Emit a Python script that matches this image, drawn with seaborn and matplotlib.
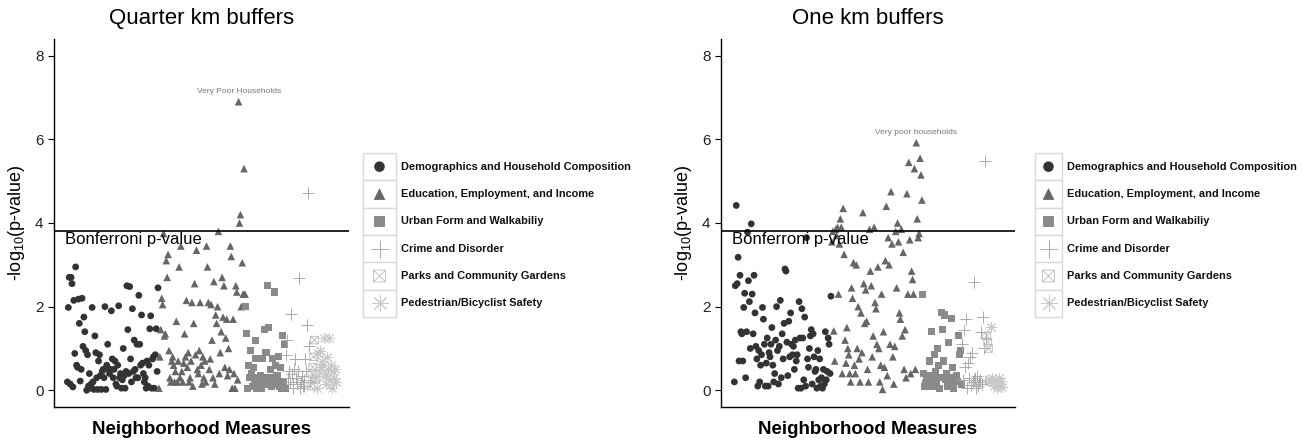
import matplotlib
matplotlib.use('Agg')
import matplotlib.pyplot as plt
from matplotlib.path import Path
from matplotlib.patches import Rectangle
import seaborn as sns
import pandas as pd

# category names and legend labels
domains = ['Demographics and Household Composition',
           'Education, Employment, and Income',
           'Urban Form and Walkabiliy',
           'Crime and Disorder',
           'Parks and Community Gardens',
           'Pedestrian/Bicyclist Safety']

panel_titles = ['Quarter km buffers', 'One km buffers']
bonferroni = 3.82
top_labels = ['Very Poor Households', 'Very poor households']

# -log10(p) per measure, in plotting order, quarter km buffers
q_demo = [0.2, 1.98, 2.7, 0.15, 2.7, 2.55, 0.08, 2.15, 0.88, 2.95, 0.6, 0.55,
          2.18, 1.6, 0.22, 0.5, 2.2, 1.05, 1.75, 1.4, 0.95, 0.0, 0.85, 0.1,
          0.4, 0.05, 0.15, 1.98, 0.2, 0.02, 1.3, 0.9, 0.3, 0.02, 0.7, 0.85,
          0.35, 0.02, 0.45, 0.5, 0.3, 2.0, 0.02, 0.6, 1.1, 0.5, 0.4, 0.5,
          1.9, 0.75, 0.3, 0.5, 0.7, 0.15, 0.1, 0.6, 2.02, 0.3, 0.4, 0.05,
          0.25, 1.0, 0.35, 0.05, 0.45, 2.5, 1.45, 0.4, 2.48, 0.75, 0.2, 1.95,
          0.45, 1.2, 0.5, 0.3, 1.1, 0.3, 2.27, 1.1, 0.6, 1.8, 0.65, 0.4,
          0.2, 0.3, 0.05, 0.7, 0.1, 0.6, 1.47, 1.78, 0.05, 0.75, 0.8, 0.05,
          0.85, 1.47, 0.45, 2.45]
q_educ = [0.05, 0.8, 1.45, 2.2, 2.05, 3.75, 1.3, 1.35, 3.1, 2.7, 3.25, 0.95,
          0.3, 0.2, 0.7, 0.8, 0.6, 0.2, 0.45, 1.65, 0.2, 0.7, 2.95, 0.3,
          3.45, 0.45, 0.2, 0.65, 1.35, 0.8, 2.15, 0.55, 0.9, 0.2, 0.3, 0.7,
          2.1, 0.1, 1.6, 2.55, 0.85, 3.35, 0.5, 0.4, 0.95, 2.1, 0.6, 0.15,
          0.8, 0.3, 0.7, 0.2, 3.45, 2.95, 2.1, 0.5, 0.75, 2.05, 1.2, 0.3,
          2.6, 0.15, 1.8, 1.6, 2.0, 3.8, 0.4, 0.9, 1.4, 2.7, 1.75, 2.5,
          0.55, 1.25, 1.7, 0.35, 1.0, 0.5, 3.45, 3.2, 0.05, 1.7, 0.4, 0.05,
          2.5, 2.35, 0.25, 6.9, 4.0, 4.2, 2.0, 3.05, 2.3, 5.3, 2.3]
q_urban = [2.0, 1.35, 0.05, 0.6, 0.3, 0.95, 0.4, 0.1, 0.55, 0.25, 1.2, 0.75,
           0.05, 0.1, 0.3, 0.2, 0.35, 0.05, 0.75, 0.3, 1.45, 0.15, 0.9, 0.2,
           2.5, 1.5, 0.3, 0.5, 0.1, 0.75, 0.25, 2.35, 0.6, 0.3, 0.35, 0.15,
           0.8, 0.1, 0.55, 0.05, 1.3, 0.2, 1.1, 0.05]
q_crime = [0.85, 1.2, 0.3, 0.45, 0.2, 1.82, 0.4, 0.05, 0.15, 0.5, 0.75, 0.3,
           0.15, 0.45, 2.68, 0.05, 0.2, 0.35, 0.1, 0.25, 0.1, 0.75, 0.45,
           1.55, 4.72, 1.05, 0.2]
q_parks = [0.1, 0.4, 0.55, 0.8, 1.2, 0.25, 0.3]
q_ped = [0.05, 0.9, 0.45, 0.95, 0.55, 0.7, 0.6, 1.25, 0.35, 0.15, 0.4, 0.8,
         0.5, 1.25, 0.25, 0.6, 0.05, 0.45, 0.3, 0.5, 0.2]

# one km buffers
k_demo = [0.2, 2.5, 4.42, 2.55, 3.18, 0.7, 2.75, 1.4, 1.35, 0.7, 1.98, 2.32,
          0.3, 1.4, 3.78, 2.62, 2.12, 1.0, 3.98, 2.3, 1.35, 2.75, 1.85, 1.05,
          0.75, 0.1, 0.95, 0.2, 0.6, 0.85, 1.98, 1.7, 1.1, 0.1, 0.65, 1.25,
          0.1, 0.9, 0.8, 1.1, 1.5, 0.6, 0.2, 0.4, 1.2, 2.0, 0.95, 0.15,
          1.05, 2.15, 0.3, 1.35, 0.75, 1.6, 2.9, 2.85, 1.15, 0.35, 1.65, 0.8,
          1.85, 1.1, 0.85, 1.05, 0.5, 1.2, 0.7, 0.85, 0.05, 2.12, 1.25, 0.05,
          1.95, 1.25, 0.25, 1.75, 0.1, 3.65, 0.75, 0.55, 1.0, 1.3, 1.45, 0.15,
          1.35, 0.8, 0.45, 0.5, 0.05, 0.95, 0.25, 0.75, 0.1, 0.3, 0.05, 0.5,
          0.15, 1.4, 0.25, 0.45, 1.25, 1.1, 0.4, 2.25]
k_educ = [3.55, 3.8, 1.42, 0.7, 3.85, 3.7, 3.9, 2.3, 3.5, 4.1, 3.9, 0.4,
          4.35, 3.25, 1.2, 0.65, 1.5, 1.0, 0.85, 0.4, 0.2, 2.45, 2.2, 3.05,
          0.6, 0.4, 3.0, 1.0, 2.0, 0.75, 0.2, 1.85, 0.9, 4.25, 2.55, 1.6,
          2.4, 1.65, 0.5, 0.2, 3.85, 2.85, 2.5, 0.8, 1.3, 3.9, 2.1, 1.95,
          1.1, 2.95, 1.0, 0.2, 0.6, 2.3, 0.02, 1.4, 0.55, 3.1, 4.4, 0.35,
          3.65, 3.0, 1.1, 4.75, 3.5, 0.8, 0.15, 1.05, 3.8, 2.45, 4.0, 3.55,
          1.85, 1.7, 3.85, 1.3, 3.3, 0.5, 1.45, 0.3, 4.7, 2.3, 5.45, 3.6,
          0.4, 2.85, 2.65, 2.3, 5.3, 0.5, 5.92, 4.1, 3.65, 3.75, 5.55, 5.15,
          4.55]
k_urban = [2.28, 0.4, 0.1, 0.15, 0.3, 0.1, 0.25, 0.7, 0.35, 1.4, 0.2, 0.1,
           0.85, 0.45, 0.15, 0.3, 1.0, 0.6, 0.05, 0.3, 1.85, 1.45, 0.7, 1.8,
           0.25, 0.4, 0.1, 1.15, 0.25, 0.3, 0.15, 1.72, 0.55, 0.05, 0.25, 0.2,
           0.35, 0.2, 1.3, 0.85, 0.95, 0.15]
k_crime = [1.1, 0.25, 1.45, 0.55, 1.7, 0.05, 0.65, 0.3, 0.8, 0.12, 0.9, 0.2,
           2.58, 0.25, 0.3, 0.05, 0.35, 0.1, 0.2, 0.25, 1.4, 0.15, 1.75, 1.0,
           5.48, 1.25]
k_parks = [1.3, 1.15, 1.0, 0.25, 0.2]
k_ped = [1.52, 0.3, 0.2, 0.1, 0.25, 0.15, 0.05, 0.18, 0.3, 0.12, 0.22, 0.08]

panel_values = [[q_demo, q_educ, q_urban, q_crime, q_parks, q_ped],
                [k_demo, k_educ, k_urban, k_crime, k_parks, k_ped]]

# styling
colors = ['#333333', '#666666', '#8a8a8a', '#aaaaaa', '#bbbbbb', '#c8c8c8']
boxcross = Path([(-1, -1), (1, -1), (1, 1), (-1, 1), (-1, -1),
                 (-1, -1), (1, 1), (-1, 1), (1, -1)],
                [Path.MOVETO, Path.LINETO, Path.LINETO, Path.LINETO, Path.CLOSEPOLY,
                 Path.MOVETO, Path.LINETO, Path.MOVETO, Path.LINETO])
markers = ['o', '^', 's', '+', boxcross, (8, 2, 0)]
sizes = [24, 30, 26, 65, 30, 55]

sns.set_style('ticks')
plt.rcParams['font.family'] = ['Liberation Sans', 'DejaVu Sans']
plt.rcParams['mathtext.fontset'] = 'custom'
plt.rcParams['mathtext.rm'] = 'Liberation Sans'

W, H = 1312, 443
fig = plt.figure(figsize=(W / 100, H / 100), dpi=100)


def fig_rect(x0, y0, w, h):
    return [x0 / W, 1 - (y0 + h) / H, w / W, h / H]


def draw_points(ax, i, df, size_scale=1.0):
    kw = dict(color=colors[i], marker=markers[i], s=sizes[i] * size_scale, ax=ax, legend=False)
    if i in (3, 5):
        kw.update(linewidth=0.7)
    elif i == 4:
        kw.update(facecolor='none', edgecolor=colors[i], linewidth=0.6)
    else:
        kw.update(edgecolor='none', linewidth=0)
    sns.scatterplot(data=df, x='idx', y='logp', **kw)


axes_px = [(54, 39, 295, 368), (721, 39, 294, 368)]
legend_px = [(363, 153, 33, 164), (1035, 153, 27, 164)]

for p in range(2):
    frames = []
    start = 0
    for i, vals in enumerate(panel_values[p]):
        frames.append(pd.DataFrame({'idx': range(start, start + len(vals)),
                                    'logp': vals, 'domain': domains[i]}))
        start += len(vals)
    data = pd.concat(frames, ignore_index=True)
    n = len(data) - 1

    ax = fig.add_axes(fig_rect(*axes_px[p]))
    for i, d in enumerate(domains):
        draw_points(ax, i, data[data['domain'] == d])

    ax.axhline(bonferroni, color='black', lw=1.2)
    ax.text(-0.01 * n, bonferroni - 0.04, 'Bonferroni p-value', ha='left', va='top',
            fontsize=12, color='black')
    top = data[data['domain'] == domains[1]].sort_values('logp').iloc[-1]
    ax.text(top['idx'], top['logp'] + 0.15, top_labels[p], ha='center', va='bottom',
            fontsize=6, color='#777777')

    ax.set_xlim(-0.05 * n, 1.05 * n)
    ax.set_ylim(-0.4, 8.4)
    ax.set_yticks([0, 2, 4, 6, 8])
    ax.set_xticks([])
    ax.tick_params(axis='y', labelsize=11, length=4, width=0.8, colors='black', labelcolor='#222222')
    ax.set_xlabel('Neighborhood Measures', fontsize=13.5, fontweight='bold', labelpad=10,
                  color='black')
    ax.set_ylabel(r'-log$_{10}$(p-value)', fontsize=13, labelpad=6, color='black')
    ax.set_title(panel_titles[p], fontsize=16, pad=11, color='black')
    sns.despine(ax=ax)
    for s in ('left', 'bottom'):
        ax.spines[s].set_color('black')
        ax.spines[s].set_linewidth(1.0)

    # legend built as key cells, like the ggplot guide
    lx, ly, lw, lh = legend_px[p]
    lax = fig.add_axes(fig_rect(lx, ly, lw, lh))
    for i, d in enumerate(domains):
        lax.add_patch(Rectangle((0, i), 1, 1, facecolor='white', edgecolor='#d9d9d9',
                                lw=1, clip_on=False))
        key = pd.DataFrame({'idx': [0.5], 'logp': [i + 0.5]})
        draw_points(lax, i, key, size_scale=2.4)
        lax.text(1 + 5 / lw, i + 0.5, d, ha='left', va='center', fontsize=7.9,
                 fontweight='bold', color='#111111', clip_on=False)
    lax.set_xlim(0, 1)
    lax.set_ylim(6, 0)
    lax.axis('off')

fig.savefig('out.png', dpi=100)
